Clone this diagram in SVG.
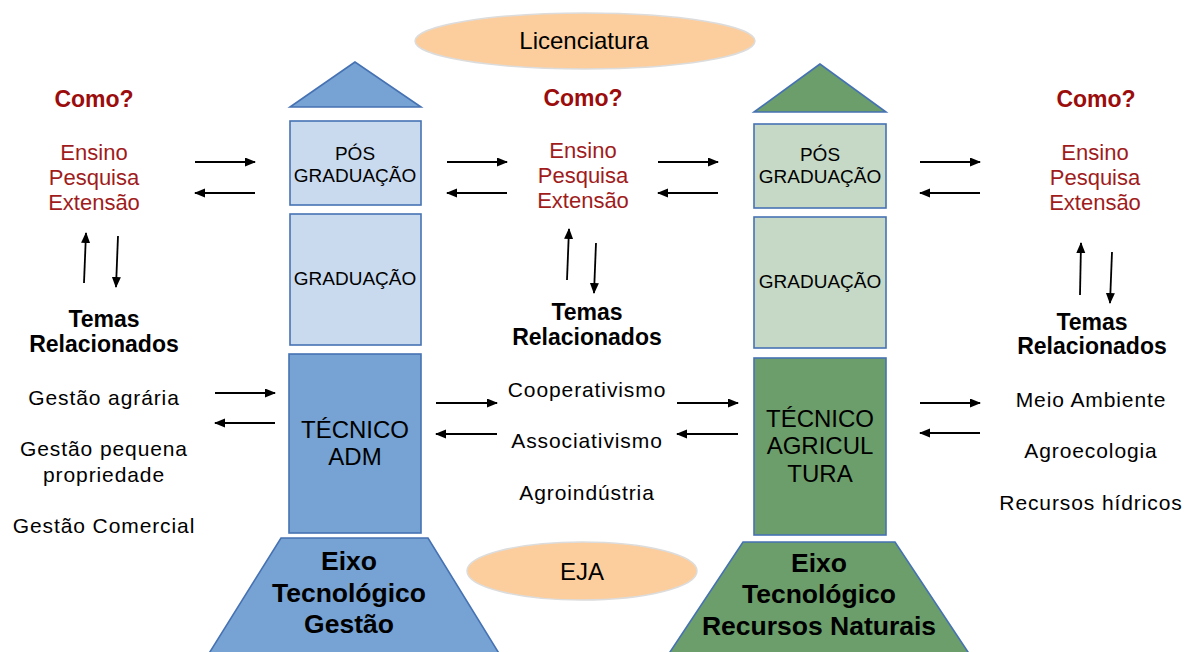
<svg xmlns="http://www.w3.org/2000/svg" width="1192" height="652" viewBox="0 0 1192 652">
<defs>
<marker id="ah" markerUnits="userSpaceOnUse" markerWidth="11" markerHeight="10" refX="10" refY="4.5" orient="auto">
<path d="M0,0 L11,4.5 L0,9 z" fill="#000"/>
</marker>
<style>
text{font-family:"Liberation Sans",Arial,sans-serif;text-anchor:middle;fill:#000}
.box{stroke:#4672B3;stroke-width:1.6}
.bd{fill:#76A3D3}.bl{fill:#C9DAEE}.gd{fill:#6B9E6A}.gl{fill:#C5D9C6}
.ell{fill:#FDCE9D;stroke:#dcdcdc;stroke-width:1.5}
.lab{font-size:19px}
.tec{font-size:24px}
.eixo{font-size:26.5px;font-weight:bold}
.como{font-size:23px;font-weight:bold;fill:#9B0C0C}
.ens{font-size:22px;fill:#A01C1C}
.tema{font-size:23px;font-weight:bold}
.li{font-size:21px;letter-spacing:0.9px}
.ov{font-size:24px}
.ar{stroke:#000;stroke-width:1.8;fill:none;marker-end:url(#ah)}
</style>
</defs>

<g id="licenciatura">
<ellipse class="ell" cx="585" cy="41" rx="170" ry="28"/>
<text class="ov" x="584" y="49">Licenciatura</text>
</g>
<g id="eja">
<ellipse class="ell" cx="582" cy="571" rx="115" ry="29"/>
<text class="ov" x="582" y="580">EJA</text>
</g>

<g id="gestao-col">
<polygon class="box bd" points="355,62 290,107 421,107"/>
<rect class="box bl" x="290" y="121" width="131" height="84"/>
<text class="lab" x="355" y="160">PÓS</text>
<text class="lab" x="355" y="182">GRADUAÇÃO</text>
<rect class="box bl" x="290" y="214" width="131" height="131"/>
<text class="lab" x="355" y="285">GRADUAÇÃO</text>
<rect class="box bd" x="289" y="354" width="132" height="179"/>
<text class="tec" x="355" y="438">TÉCNICO</text>
<text class="tec" x="355" y="465">ADM</text>
<polygon class="box bd" points="281,538 428,538 500,655 208,655"/>
<text class="eixo" x="349" y="570">Eixo</text>
<text class="eixo" x="349" y="602">Tecnológico</text>
<text class="eixo" x="349" y="633">Gestão</text>
</g>

<g id="recursos-col">
<polygon class="box gd" points="820,64 754,112 886,112"/>
<rect class="box gl" x="754" y="124" width="132" height="84"/>
<text class="lab" x="820" y="161">PÓS</text>
<text class="lab" x="820" y="183">GRADUAÇÃO</text>
<rect class="box gl" x="754" y="217" width="132" height="131"/>
<text class="lab" x="820" y="288">GRADUAÇÃO</text>
<rect class="box gd" x="754" y="358" width="132" height="177"/>
<text class="tec" x="820" y="427">TÉCNICO</text>
<text class="tec" x="820" y="454">AGRICUL</text>
<text class="tec" x="820" y="482">TURA</text>
<polygon class="box gd" points="743,542 895,542 970,655 668,655"/>
<text class="eixo" x="819" y="572">Eixo</text>
<text class="eixo" x="819" y="603">Tecnológico</text>
<text class="eixo" x="819" y="635">Recursos Naturais</text>
</g>

<g id="left-text">
<text class="como" x="94" y="107">Como?</text>
<text class="ens" x="94" y="160">Ensino</text>
<text class="ens" x="94" y="185">Pesquisa</text>
<text class="ens" x="94" y="210">Extensão</text>
<text class="tema" x="104" y="327">Temas</text>
<text class="tema" x="104" y="352">Relacionados</text>
<text class="li" x="104" y="405">Gestão agrária</text>
<text class="li" x="104" y="456">Gestão pequena</text>
<text class="li" x="104" y="482">propriedade</text>
<text class="li" x="104" y="533">Gestão Comercial</text>
</g>

<g id="middle-text">
<text class="como" x="583" y="106">Como?</text>
<text class="ens" x="583" y="158">Ensino</text>
<text class="ens" x="583" y="183">Pesquisa</text>
<text class="ens" x="583" y="208">Extensão</text>
<text class="tema" x="587" y="320">Temas</text>
<text class="tema" x="587" y="345">Relacionados</text>
<text class="li" x="587" y="397">Cooperativismo</text>
<text class="li" x="587" y="448">Associativismo</text>
<text class="li" x="587" y="500">Agroindústria</text>
</g>

<g id="right-text">
<text class="como" x="1096" y="107">Como?</text>
<text class="ens" x="1095" y="160">Ensino</text>
<text class="ens" x="1095" y="185">Pesquisa</text>
<text class="ens" x="1095" y="210">Extensão</text>
<text class="tema" x="1092" y="330">Temas</text>
<text class="tema" x="1092" y="354">Relacionados</text>
<text class="li" x="1091" y="407">Meio Ambiente</text>
<text class="li" x="1091" y="458">Agroecologia</text>
<text class="li" x="1091" y="510">Recursos hídricos</text>
</g>

<g id="connectors">
<line class="ar" x1="195" y1="162" x2="255" y2="162"/>
<line class="ar" x1="255" y1="193" x2="195" y2="193"/>
<line class="ar" x1="447" y1="162" x2="507" y2="162"/>
<line class="ar" x1="507" y1="193" x2="447" y2="193"/>
<line class="ar" x1="658" y1="162" x2="718" y2="162"/>
<line class="ar" x1="718" y1="193" x2="658" y2="193"/>
<line class="ar" x1="920" y1="162" x2="980" y2="162"/>
<line class="ar" x1="980" y1="193" x2="920" y2="193"/>

<line class="ar" x1="215" y1="393" x2="275" y2="393"/>
<line class="ar" x1="275" y1="423" x2="215" y2="423"/>
<line class="ar" x1="436" y1="403" x2="497" y2="403"/>
<line class="ar" x1="497" y1="434" x2="436" y2="434"/>
<line class="ar" x1="677" y1="403" x2="738" y2="403"/>
<line class="ar" x1="738" y1="434" x2="677" y2="434"/>
<line class="ar" x1="920" y1="403" x2="980" y2="403"/>
<line class="ar" x1="980" y1="433" x2="920" y2="433"/>

<line class="ar" x1="84" y1="283" x2="86" y2="233"/>
<line class="ar" x1="118" y1="236" x2="116" y2="287"/>
<line class="ar" x1="567" y1="280" x2="569" y2="229"/>
<line class="ar" x1="596" y1="243" x2="594" y2="293"/>
<line class="ar" x1="1080" y1="295" x2="1081" y2="243"/>
<line class="ar" x1="1112" y1="252" x2="1110" y2="303"/>
</g>
</svg>
